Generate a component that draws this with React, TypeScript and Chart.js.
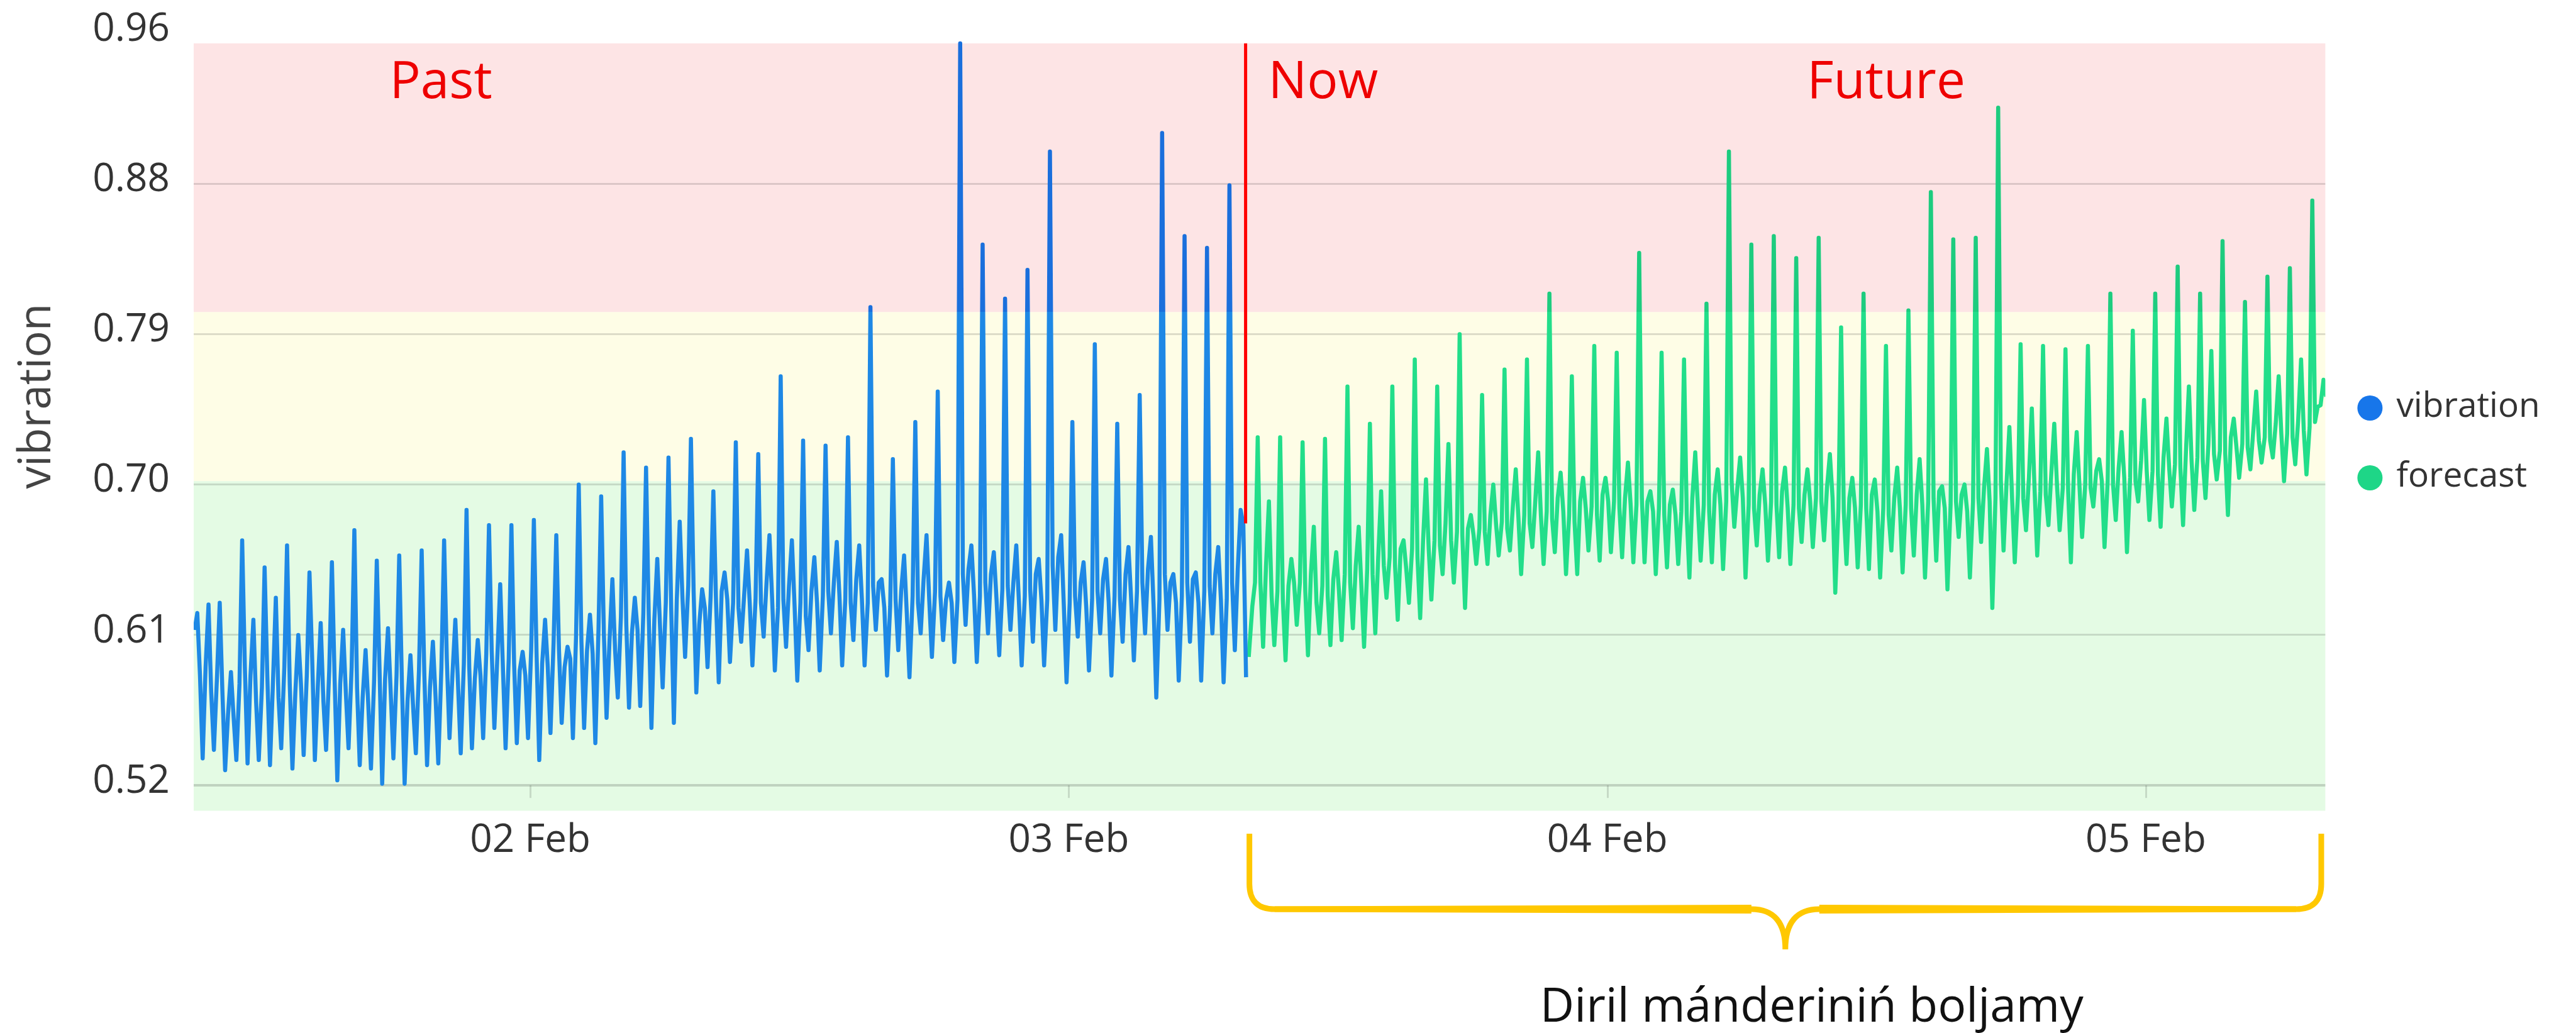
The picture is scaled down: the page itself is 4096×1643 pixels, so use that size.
import React, { useEffect, useRef } from "react";
import { Chart, registerables } from "chart.js";

Chart.register(...registerables);

// ---------------- data (x in hours counted from 01 Feb 00:00) ----------------
const X_MIN_HOUR = 9;
const X_MAX_HOUR = 104;
const DAY_TICK_HOURS = [24, 48, 72, 96];
const DAY_TICK_LABELS = ["02 Feb", "03 Feb", "04 Feb", "05 Feb"];

const Y_MIN = 0.505;
const Y_MAX = 0.965;
const Y_TICK_VALUES = [0.52, 0.609, 0.698, 0.787, 0.876, 0.965];
const Y_TICK_LABELS = ["0.52", "0.61", "0.70", "0.79", "0.88", "0.96"];
const Y_AXIS_TITLE = "vibration";

// thresholds of the green / yellow / red zones
const ZONE_LIMITS = [0.7, 0.8, 0.959];

const SERIES_NAMES = ["vibration", "forecast"];

const NOW_HOUR = 55.88;
const NOW_LINE_VALUES = [0.959, 0.675];

const PHASE_LABELS = ["Past", "Now", "Future"];
const PHASE_LABEL_HOURS = [17.73, 56.89, 80.9];
const PHASE_LABEL_LEVEL = 0.9265;

const BRACE_FROM_HOUR = 56.05;
const BRACE_TO_HOUR = 103.82;
const CAPTION = "Diril mánderiniń boljamy";

// measured vibration: one row per hour, values at the hour offsets below
const VIBRATION_FIRST_HOUR = 9;
const VIBRATION_OFFSETS = [0.04, 0.16, 0.28, 0.4, 0.53, 0.66, 0.78, 0.9];
const VIBRATION_ROWS: number[][] = [
  [0.612, 0.622, 0.585, 0.536, 0.59, 0.627, 0.575, 0.541],
  [0.585, 0.628, 0.575, 0.529, 0.562, 0.587, 0.56, 0.535],
  [0.58, 0.665, 0.59, 0.533, 0.585, 0.618, 0.57, 0.535],
  [0.578, 0.649, 0.585, 0.532, 0.58, 0.631, 0.572, 0.542],
  [0.59, 0.662, 0.58, 0.53, 0.575, 0.609, 0.58, 0.538],
  [0.585, 0.646, 0.595, 0.535, 0.578, 0.616, 0.57, 0.541],
  [0.588, 0.652, 0.583, 0.523, 0.58, 0.612, 0.575, 0.542],
  [0.59, 0.671, 0.578, 0.532, 0.572, 0.6, 0.568, 0.53],
  [0.582, 0.653, 0.59, 0.521, 0.583, 0.613, 0.575, 0.536],
  [0.585, 0.656, 0.58, 0.521, 0.57, 0.597, 0.566, 0.539],
  [0.588, 0.659, 0.585, 0.532, 0.578, 0.605, 0.572, 0.533],
  [0.59, 0.665, 0.595, 0.548, 0.585, 0.618, 0.58, 0.539],
  [0.592, 0.683, 0.59, 0.542, 0.583, 0.606, 0.585, 0.548],
  [0.598, 0.674, 0.6, 0.554, 0.595, 0.639, 0.59, 0.542],
  [0.595, 0.674, 0.592, 0.545, 0.588, 0.599, 0.585, 0.548],
  [0.6, 0.677, 0.598, 0.535, 0.592, 0.618, 0.59, 0.551],
  [0.605, 0.668, 0.6, 0.557, 0.59, 0.602, 0.595, 0.548],
  [0.608, 0.698, 0.605, 0.554, 0.6, 0.621, 0.598, 0.545],
  [0.612, 0.691, 0.61, 0.56, 0.605, 0.642, 0.6, 0.572],
  [0.62, 0.717, 0.615, 0.566, 0.61, 0.631, 0.612, 0.567],
  [0.622, 0.708, 0.62, 0.554, 0.618, 0.654, 0.615, 0.578],
  [0.628, 0.714, 0.625, 0.557, 0.63, 0.676, 0.632, 0.596],
  [0.638, 0.725, 0.635, 0.575, 0.615, 0.636, 0.625, 0.59],
  [0.632, 0.694, 0.628, 0.581, 0.635, 0.646, 0.63, 0.593],
  [0.628, 0.723, 0.625, 0.605, 0.632, 0.659, 0.628, 0.591],
  [0.63, 0.716, 0.628, 0.608, 0.64, 0.668, 0.63, 0.588],
  [0.625, 0.762, 0.63, 0.602, 0.638, 0.665, 0.626, 0.582],
  [0.628, 0.724, 0.62, 0.6, 0.635, 0.655, 0.628, 0.588],
  [0.632, 0.721, 0.635, 0.61, 0.64, 0.664, 0.632, 0.591],
  [0.63, 0.726, 0.628, 0.606, 0.642, 0.662, 0.63, 0.591],
  [0.628, 0.803, 0.638, 0.612, 0.64, 0.642, 0.625, 0.585],
  [0.626, 0.713, 0.63, 0.6, 0.635, 0.656, 0.622, 0.584],
  [0.632, 0.735, 0.628, 0.61, 0.642, 0.668, 0.63, 0.596],
  [0.635, 0.753, 0.632, 0.606, 0.63, 0.64, 0.628, 0.593],
  [0.63, 0.959, 0.645, 0.615, 0.648, 0.662, 0.632, 0.593],
  [0.632, 0.84, 0.64, 0.61, 0.645, 0.658, 0.63, 0.597],
  [0.636, 0.808, 0.638, 0.612, 0.64, 0.662, 0.628, 0.591],
  [0.632, 0.825, 0.636, 0.605, 0.645, 0.654, 0.63, 0.591],
  [0.63, 0.895, 0.65, 0.612, 0.655, 0.668, 0.626, 0.581],
  [0.628, 0.735, 0.632, 0.608, 0.64, 0.652, 0.625, 0.588],
  [0.63, 0.781, 0.635, 0.61, 0.642, 0.654, 0.628, 0.585],
  [0.632, 0.734, 0.63, 0.605, 0.645, 0.661, 0.63, 0.594],
  [0.635, 0.751, 0.64, 0.61, 0.648, 0.667, 0.626, 0.572],
  [0.63, 0.906, 0.645, 0.612, 0.64, 0.645, 0.628, 0.582],
  [0.632, 0.845, 0.64, 0.605, 0.642, 0.646, 0.628, 0.582],
  [0.635, 0.838, 0.638, 0.61, 0.645, 0.661, 0.63, 0.581],
  [0.63, 0.875, 0.64, 0.6, 0.648, 0.683, 0.674, 0.584],
];

// forecast: short lead-in right after "now", then one row per hour
const FORECAST_LEAD_HOURS = [56.02, 56.18];
const FORECAST_LEAD_VALUES = [0.596, 0.626];
const FORECAST_FIRST_HOUR = 56;
const FORECAST_OFFSETS = [0.3, 0.42, 0.54, 0.66, 0.79, 0.92, 1.04, 1.16];
const FORECAST_ROWS: number[][] = [
  [0.64, 0.726, 0.64, 0.602, 0.65, 0.688, 0.632, 0.603],
  [0.635, 0.726, 0.63, 0.594, 0.638, 0.654, 0.64, 0.615],
  [0.64, 0.723, 0.635, 0.597, 0.645, 0.673, 0.628, 0.61],
  [0.638, 0.725, 0.632, 0.603, 0.642, 0.658, 0.635, 0.606],
  [0.645, 0.756, 0.64, 0.613, 0.65, 0.673, 0.638, 0.602],
  [0.648, 0.734, 0.645, 0.61, 0.655, 0.694, 0.65, 0.631],
  [0.655, 0.756, 0.65, 0.618, 0.66, 0.665, 0.648, 0.628],
  [0.66, 0.772, 0.655, 0.619, 0.665, 0.701, 0.66, 0.63],
  [0.665, 0.756, 0.662, 0.645, 0.675, 0.722, 0.665, 0.64],
  [0.67, 0.787, 0.668, 0.625, 0.672, 0.68, 0.668, 0.651],
  [0.672, 0.751, 0.67, 0.651, 0.68, 0.698, 0.675, 0.656],
  [0.676, 0.766, 0.672, 0.659, 0.685, 0.707, 0.678, 0.645],
  [0.68, 0.772, 0.675, 0.661, 0.688, 0.717, 0.68, 0.651],
  [0.682, 0.811, 0.678, 0.658, 0.69, 0.705, 0.682, 0.645],
  [0.68, 0.762, 0.676, 0.645, 0.688, 0.702, 0.684, 0.659],
  [0.685, 0.78, 0.68, 0.653, 0.692, 0.702, 0.688, 0.658],
  [0.688, 0.776, 0.684, 0.655, 0.69, 0.711, 0.686, 0.652],
  [0.686, 0.835, 0.69, 0.652, 0.688, 0.694, 0.682, 0.645],
  [0.684, 0.776, 0.68, 0.649, 0.686, 0.695, 0.68, 0.651],
  [0.682, 0.772, 0.68, 0.643, 0.69, 0.717, 0.684, 0.653],
  [0.686, 0.805, 0.682, 0.652, 0.692, 0.707, 0.686, 0.648],
  [0.688, 0.895, 0.7, 0.673, 0.695, 0.714, 0.69, 0.643],
  [0.686, 0.84, 0.684, 0.662, 0.692, 0.707, 0.686, 0.653],
  [0.688, 0.845, 0.686, 0.655, 0.694, 0.708, 0.684, 0.651],
  [0.686, 0.832, 0.684, 0.664, 0.692, 0.707, 0.688, 0.661],
  [0.69, 0.844, 0.688, 0.665, 0.696, 0.716, 0.69, 0.634],
  [0.684, 0.791, 0.682, 0.651, 0.69, 0.702, 0.684, 0.649],
  [0.686, 0.811, 0.684, 0.648, 0.692, 0.701, 0.682, 0.643],
  [0.684, 0.78, 0.68, 0.659, 0.69, 0.708, 0.684, 0.646],
  [0.686, 0.801, 0.684, 0.656, 0.692, 0.713, 0.686, 0.643],
  [0.688, 0.871, 0.69, 0.653, 0.694, 0.697, 0.684, 0.636],
  [0.686, 0.843, 0.688, 0.667, 0.692, 0.698, 0.682, 0.643],
  [0.688, 0.844, 0.69, 0.664, 0.696, 0.719, 0.688, 0.625],
  [0.69, 0.921, 0.7, 0.659, 0.698, 0.732, 0.69, 0.652],
  [0.692, 0.781, 0.69, 0.671, 0.702, 0.743, 0.696, 0.656],
  [0.694, 0.78, 0.692, 0.674, 0.705, 0.734, 0.698, 0.671],
  [0.696, 0.778, 0.694, 0.652, 0.704, 0.729, 0.698, 0.667],
  [0.698, 0.78, 0.696, 0.685, 0.706, 0.713, 0.7, 0.661],
  [0.7, 0.811, 0.698, 0.677, 0.708, 0.729, 0.702, 0.658],
  [0.702, 0.789, 0.7, 0.688, 0.712, 0.748, 0.706, 0.677],
  [0.706, 0.811, 0.704, 0.673, 0.714, 0.737, 0.708, 0.685],
  [0.71, 0.827, 0.708, 0.674, 0.718, 0.756, 0.712, 0.683],
  [0.714, 0.811, 0.712, 0.69, 0.722, 0.777, 0.716, 0.701],
  [0.718, 0.842, 0.716, 0.68, 0.726, 0.737, 0.72, 0.702],
  [0.722, 0.806, 0.72, 0.707, 0.73, 0.753, 0.724, 0.711],
  [0.726, 0.821, 0.724, 0.714, 0.734, 0.762, 0.728, 0.7],
  [0.728, 0.826, 0.726, 0.71, 0.736, 0.772, 0.73, 0.704],
  [0.732, 0.866, 0.735, 0.744, 0.745, 0.76, 0.75, 0.748],
];

// ---------------- helpers ----------------
type Pt = { x: number; y: number };

function rowsToPoints(firstHour: number, offsets: number[], rows: number[][]): Pt[] {
  const pts: Pt[] = [];
  rows.forEach((row, i) => {
    row.forEach((v, j) => pts.push({ x: firstHour + i + offsets[j], y: v }));
  });
  return pts;
}

const FONT = '"Open Sans", "Noto Sans", "DejaVu Sans", sans-serif';

function zoneColor(base: string, high: string) {
  return (c: any) => {
    const chart = c.chart;
    const area = chart.chartArea;
    if (!area) return base;
    const y = chart.scales.y;
    const yLim = y.getPixelForValue(ZONE_LIMITS[1]);
    const f = Math.min(1, Math.max(0, (area.bottom - yLim) / (area.bottom - area.top)));
    const g = chart.ctx.createLinearGradient(0, area.bottom, 0, area.top);
    g.addColorStop(0, base);
    g.addColorStop(f, base);
    g.addColorStop(f, high);
    g.addColorStop(1, high);
    return g;
  };
}

const decorPlugin = {
  id: "decor",
  beforeDraw(chart: any) {
    const { ctx, chartArea: a, scales } = chart;
    const ys = scales.y;
    const yTop = ys.getPixelForValue(ZONE_LIMITS[2]);
    const yMid = ys.getPixelForValue(ZONE_LIMITS[1]);
    const yLow = ys.getPixelForValue(ZONE_LIMITS[0]);
    ctx.save();
    ctx.fillStyle = "#fde4e5";
    ctx.fillRect(a.left, yTop, a.right - a.left, yMid - yTop);
    ctx.fillStyle = "#fefde6";
    ctx.fillRect(a.left, yMid, a.right - a.left, yLow - yMid);
    ctx.fillStyle = "#e4fbe4";
    ctx.fillRect(a.left, yLow, a.right - a.left, a.bottom - yLow);
    ctx.restore();
  },
  beforeDatasetsDraw(chart: any) {
    const { ctx, scales } = chart;
    const y0 = scales.y.getPixelForValue(Y_TICK_VALUES[0]);
    ctx.save();
    ctx.strokeStyle = "rgba(0,0,0,0.13)";
    ctx.lineWidth = 3;
    DAY_TICK_HOURS.forEach((h) => {
      const px = Math.round(scales.x.getPixelForValue(h)) + 0.5;
      ctx.beginPath();
      ctx.moveTo(px, y0);
      ctx.lineTo(px, y0 + 20);
      ctx.stroke();
    });
    ctx.restore();
  },
  afterDraw(chart: any) {
    const { ctx, chartArea: a, scales } = chart;
    const xs = scales.x;
    const ys = scales.y;
    ctx.save();

    // Past / Now / Future
    ctx.font = `400 82px ${FONT}`;
    ctx.fillStyle = "#ee0000";
    ctx.textAlign = "left";
    ctx.textBaseline = "alphabetic";
    const baseY = ys.getPixelForValue(PHASE_LABEL_LEVEL);
    PHASE_LABELS.forEach((t, i) => ctx.fillText(t, xs.getPixelForValue(PHASE_LABEL_HOURS[i]), baseY));

    // legend
    const legendColors = ["#1776ea", "#1ed687"];
    const legendRows = [649, 760];
    SERIES_NAMES.forEach((name, i) => {
      ctx.beginPath();
      ctx.fillStyle = legendColors[i];
      ctx.arc(a.right + 71, legendRows[i], 20, 0, Math.PI * 2);
      ctx.fill();
      ctx.fillStyle = "#333333";
      ctx.font = `400 55px ${FONT}`;
      ctx.textAlign = "left";
      ctx.textBaseline = "middle";
      ctx.fillText(name, a.right + 113, legendRows[i] - 2);
    });

    // y-axis title
    ctx.save();
    ctx.translate(60, 630);
    ctx.rotate(-Math.PI / 2);
    ctx.font = `400 71px ${FONT}`;
    ctx.fillStyle = "#444444";
    ctx.textAlign = "center";
    ctx.textBaseline = "middle";
    ctx.fillText(Y_AXIS_TITLE, 0, 0);
    ctx.restore();

    // brace under the forecast period
    const L = xs.getPixelForValue(BRACE_FROM_HOUR);
    const R = xs.getPixelForValue(BRACE_TO_HOUR);
    const C = (L + R) / 2;
    const top = 1326;
    const yh = 1446;
    const tip = 1510;
    const r = 40;
    const cw = 54;
    ctx.strokeStyle = "#ffc800";
    ctx.fillStyle = "#ffc800";
    ctx.lineJoin = "round";
    ctx.lineCap = "butt";
    ctx.lineWidth = 9;
    ctx.beginPath();
    ctx.moveTo(L, top);
    ctx.lineTo(L, yh - r);
    ctx.quadraticCurveTo(L, yh, L + r, yh);
    ctx.lineTo(C - cw, yh);
    ctx.quadraticCurveTo(C, yh, C, tip);
    ctx.moveTo(R, top);
    ctx.lineTo(R, yh - r);
    ctx.quadraticCurveTo(R, yh, R - r, yh);
    ctx.lineTo(C + cw, yh);
    ctx.quadraticCurveTo(C, yh, C, tip);
    ctx.stroke();
    // tapered thickening of the horizontal parts
    ctx.beginPath();
    ctx.moveTo(L + r, yh - 4.5);
    ctx.lineTo(C - cw, yh - 7);
    ctx.lineTo(C - cw, yh + 7);
    ctx.lineTo(L + r, yh + 4.5);
    ctx.closePath();
    ctx.moveTo(R - r, yh - 4.5);
    ctx.lineTo(C + cw, yh - 7);
    ctx.lineTo(C + cw, yh + 7);
    ctx.lineTo(R - r, yh + 4.5);
    ctx.closePath();
    ctx.fill();

    // caption
    ctx.font = `400 75px ${FONT}`;
    ctx.fillStyle = "#111111";
    ctx.textAlign = "center";
    ctx.textBaseline = "alphabetic";
    ctx.fillText(CAPTION, C + 42, 1625);

    ctx.restore();
  },
};

export default function App() {
  const canvasRef = useRef<HTMLCanvasElement | null>(null);

  useEffect(() => {
    let chart: Chart | null = null;
    let cancelled = false;
    const fontsReady = (document as any).fonts
      ? Promise.all([
          (document as any).fonts.load('400 62px "Open Sans"'),
          (document as any).fonts.load('400 82px "Open Sans"'),
        ]).catch(() => null)
      : Promise.resolve(null);

    fontsReady.then(() => {
      if (cancelled || !canvasRef.current) return;
      const vibration = rowsToPoints(VIBRATION_FIRST_HOUR, VIBRATION_OFFSETS, VIBRATION_ROWS);
      const forecast: Pt[] = FORECAST_LEAD_HOURS.map((h, i) => ({ x: h, y: FORECAST_LEAD_VALUES[i] })).concat(
        rowsToPoints(FORECAST_FIRST_HOUR, FORECAST_OFFSETS, FORECAST_ROWS)
      );
      const nowLine: Pt[] = NOW_LINE_VALUES.map((v) => ({ x: NOW_HOUR, y: v }));

      chart = new Chart(canvasRef.current, {
        type: "line",
        data: {
          datasets: [
            {
              label: "now",
              data: nowLine,
              borderColor: "#ff0000",
              borderWidth: 5,
              pointRadius: 0,
              fill: false,
            },
            {
              label: SERIES_NAMES[0],
              data: vibration,
              borderColor: zoneColor("#1e88e5", "#1a6fdc") as any,
              backgroundColor: "#1776ea",
              borderWidth: 6.5,
              pointRadius: 0,
              tension: 0,
              fill: false,
              borderJoinStyle: "round",
            },
            {
              label: SERIES_NAMES[1],
              data: forecast,
              borderColor: zoneColor("#22de8a", "#1dcc7f") as any,
              backgroundColor: "#1ed687",
              borderWidth: 6.5,
              pointRadius: 0,
              tension: 0,
              fill: false,
              borderJoinStyle: "round",
            },
          ],
        },
        options: {
          responsive: false,
          maintainAspectRatio: false,
          devicePixelRatio: 1,
          animation: false,
          events: [],
          layout: { padding: { left: 0, right: 398.6, top: 52.9, bottom: 253.5 } },
          plugins: {
            legend: { display: false },
            tooltip: { enabled: false },
            title: { display: false },
          },
          scales: {
            x: {
              type: "linear",
              min: X_MIN_HOUR,
              max: X_MAX_HOUR,
              afterBuildTicks: (s: any) => {
                s.ticks = DAY_TICK_HOURS.map((v) => ({ value: v }));
              },
              afterFit: (s: any) => {
                s.height = 100;
                s.paddingLeft = 0;
                s.paddingRight = 0;
              },
              grid: { display: false, drawTicks: false },
              border: { display: false },
              ticks: {
                autoSkip: false,
                maxRotation: 0,
                minRotation: 0,
                padding: 11,
                color: "#333333",
                font: { family: FONT, size: 62 },
                callback: (v: any) => {
                  const i = DAY_TICK_HOURS.indexOf(Number(v));
                  return i >= 0 ? DAY_TICK_LABELS[i] : "";
                },
              },
            },
            y: {
              type: "linear",
              min: Y_MIN,
              max: Y_MAX,
              afterBuildTicks: (s: any) => {
                s.ticks = Y_TICK_VALUES.map((v) => ({ value: v }));
              },
              afterFit: (s: any) => {
                s.width = 308;
                s.paddingTop = 0;
                s.paddingBottom = 0;
              },
              grid: {
                drawTicks: false,
                color: (c: any) =>
                  c.index === Y_TICK_VALUES.length - 1
                    ? "rgba(0,0,0,0)"
                    : c.index === 0
                    ? "rgba(0,0,0,0.16)"
                    : "rgba(0,0,0,0.13)",
                lineWidth: (c: any) => (c.index === 0 ? 4 : 3),
              },
              border: { display: false },
              ticks: {
                padding: 38,
                labelOffset: -6,
                color: "#333333",
                font: { family: FONT, size: 62 },
                callback: (_v: any, i: number) => Y_TICK_LABELS[i] ?? "",
              },
            },
          },
        },
        plugins: [decorPlugin],
      });
    });

    return () => {
      cancelled = true;
      if (chart) chart.destroy();
    };
  }, []);

  return (
    <div style={{ position: "absolute", left: 0, top: 0, width: 4096, height: 1643, background: "#ffffff" }}>
      <canvas ref={canvasRef} width={4096} height={1643} style={{ display: "block", width: 4096, height: 1643 }} />
    </div>
  );
}
